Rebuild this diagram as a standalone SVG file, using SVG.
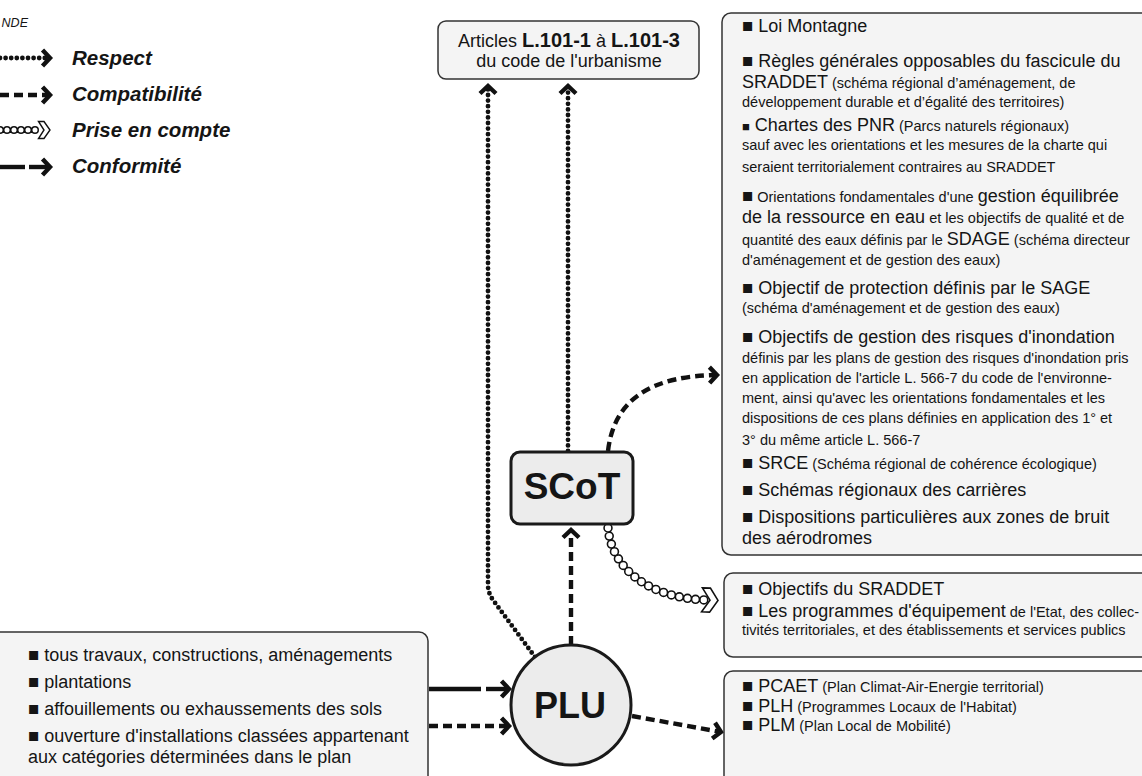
<svg xmlns="http://www.w3.org/2000/svg" width="1142" height="776" viewBox="0 0 1142 776">
<defs>
<style>
text{font-family:"Liberation Sans",Arial,Helvetica,sans-serif;fill:#151515}
.L{font-size:18px}
.s{font-size:14.5px}
.b{font-size:18.5px}
.bs{font-size:13px}
.box{fill:#f4f4f4;stroke:#333;stroke-width:1.5}
.core{fill:#ececec;stroke:#1a1a1a;stroke-width:3}
.core-t{font-weight:bold;text-anchor:middle}
.dot{fill:none;stroke:#111;stroke-width:4.8;stroke-linecap:round;stroke-dasharray:0 5.6}
.dash{fill:none;stroke:#111;stroke-width:4.4;stroke-dasharray:9 5}
.solid{fill:none;stroke:#111;stroke-width:4.4}
.chainO{fill:none;stroke:#111;stroke-width:9.5;stroke-linecap:round;stroke-dasharray:0 8.2}
.chainI{fill:none;stroke:#fff;stroke-width:6.3;stroke-linecap:round;stroke-dasharray:0 8.2}
.chainOs{fill:none;stroke:#111;stroke-width:8;stroke-linecap:round;stroke-dasharray:0 7}
.chainIs{fill:none;stroke:#fff;stroke-width:5;stroke-linecap:round;stroke-dasharray:0 7}
.leg{font-size:20.5px;font-weight:bold;font-style:italic}
</style>
<marker id="chev" markerUnits="userSpaceOnUse" viewBox="0 0 20 20" markerWidth="20" markerHeight="20" refX="11" refY="10" orient="auto">
<path d="M3.5,2 L11,10 L3.5,18" fill="none" stroke="#111" stroke-width="4.4"/>
</marker>
<marker id="hollow" markerUnits="userSpaceOnUse" viewBox="0 0 22 28" markerWidth="22" markerHeight="28" refX="6" refY="14" orient="auto">
<path d="M2,2 L10,2 L18,14 L10,26 L2,26 L10,14 Z" fill="#fff" stroke="#111" stroke-width="1.6" stroke-linejoin="miter"/>
</marker>
<marker id="hollowS" markerUnits="userSpaceOnUse" viewBox="0 0 16 20" markerWidth="16" markerHeight="20" refX="4" refY="10" orient="auto">
<path d="M1.5,1.5 L7,1.5 L13,10 L7,18.5 L1.5,18.5 L7,10 Z" fill="#fff" stroke="#111" stroke-width="1.4"/>
</marker>
</defs>
<rect width="1142" height="776" fill="#fff"/>

<g id="legend">
<text x="28" y="27" text-anchor="end" font-size="12.5" font-style="italic">NDE</text>
<path class="dot" d="M0,58 L50,58" marker-end="url(#chev)"/>
<text class="leg" x="72" y="65">Respect</text>
<path class="dash" d="M0,95 L50,95" marker-end="url(#chev)"/>
<text class="leg" x="72" y="101">Compatibilité</text>
<path class="chainOs" d="M0,130 L41,130"/>
<path class="chainIs" d="M0,130 L41,130" marker-end="url(#hollowS)"/>
<text class="leg" x="72" y="137">Prise en compte</text>
<path class="solid" d="M0,167 L25,167"/>
<path class="solid" d="M29,167 L50,167" marker-end="url(#chev)"/>
<text class="leg" x="72" y="173">Conformité</text>
</g>

<g id="connectors">
<path class="dot" d="M535,657 L493,600 Q488,593 488,585 L488,86" marker-end="url(#chev)"/>
<path class="dot" d="M568,451 L568,86" marker-end="url(#chev)"/>
<path class="dash" d="M571,645 L571,530" marker-end="url(#chev)"/>
<path class="dash" d="M608,451 C614,400 650,376 717,375" marker-end="url(#chev)"/>
<path class="chainO" d="M608,528 C612,570 650,598 706,600"/>
<path class="chainI" d="M608,528 C612,570 650,598 706,600" marker-end="url(#hollow)"/>
<path class="solid" d="M429,689 L481,689"/>
<path class="solid" d="M486,689 L509,689" marker-end="url(#chev)"/>
<path class="dash" d="M429,726 L509,726" marker-end="url(#chev)"/>
<path class="dash" d="M632,716 L721,732" marker-end="url(#chev)"/>
</g>

<g id="articles">
<rect class="box" x="438" y="21" width="261" height="58" rx="8"/>
<text x="569" y="47" text-anchor="middle" class="L">Articles <tspan font-weight="bold" font-size="20">L.101-1</tspan> à <tspan font-weight="bold" font-size="20">L.101-3</tspan></text>
<text x="569" y="67" text-anchor="middle" class="L">du code de l'urbanisme</text>
</g>

<g id="scot">
<rect class="core" x="511" y="452" width="122" height="72" rx="9"/>
<text class="core-t" x="572" y="499" font-size="37">SCoT</text>
</g>

<g id="plu">
<circle class="core" cx="571" cy="705" r="60"/>
<text class="core-t" x="570" y="718" font-size="36">PLU</text>
</g>

<g id="compat-list">
<rect class="box" x="722" y="13" width="440" height="542" rx="9"/>
<text x="742" y="32" class="L"><tspan class="b">■</tspan> Loi Montagne</text>
<text x="742" y="67" class="L"><tspan class="b">■</tspan> Règles générales opposables du fascicule du</text>
<text x="742" y="88" class="L">SRADDET<tspan class="s"> (schéma régional d’aménagement, de</tspan></text>
<text x="742" y="107" class="s">développement durable et d’égalité des territoires)</text>
<text x="742" y="131" class="L"><tspan class="bs">■</tspan> Chartes des PNR<tspan class="s"> (Parcs naturels régionaux)</tspan></text>
<text x="742" y="150" class="s">sauf avec les orientations et les mesures de la charte qui</text>
<text x="742" y="172" class="s">seraient territorialement contraires au SRADDET</text>
<text x="742" y="202" class="s"><tspan class="b">■</tspan> Orientations fondamentales d'une <tspan class="L">gestion équilibrée</tspan></text>
<text x="742" y="223" class="L">de la ressource en eau<tspan class="s"> et les objectifs de qualité et de</tspan></text>
<text x="742" y="245" class="s">quantité des eaux définis par le <tspan class="L">SDAGE</tspan> (schéma directeur</text>
<text x="742" y="265" class="s">d'aménagement et de gestion des eaux)</text>
<text x="742" y="294" class="L"><tspan class="b">■</tspan> Objectif de protection définis par le SAGE</text>
<text x="742" y="313" class="s">(schéma d'aménagement et de gestion des eaux)</text>
<text x="742" y="343" class="L"><tspan class="b">■</tspan> Objectifs de gestion des risques d'inondation</text>
<text x="742" y="363" class="s">définis par les plans de gestion des risques d'inondation pris</text>
<text x="742" y="383" class="s">en application de l'article L. 566-7 du code de l'environne-</text>
<text x="742" y="403" class="s">ment, ainsi qu'avec les orientations fondamentales et les</text>
<text x="742" y="423" class="s">dispositions de ces plans définies en application des 1° et</text>
<text x="742" y="445" class="s">3° du même article L. 566-7</text>
<text x="742" y="469" class="L"><tspan class="b">■</tspan> SRCE<tspan class="s"> (Schéma régional de cohérence écologique)</tspan></text>
<text x="742" y="496" class="L"><tspan class="b">■</tspan> Schémas régionaux des carrières</text>
<text x="742" y="523" class="L"><tspan class="b">■</tspan> Dispositions particulières aux zones de bruit</text>
<text x="742" y="544" class="L">des aérodromes</text>
</g>

<g id="prise-list">
<rect class="box" x="724" y="573" width="440" height="84" rx="9"/>
<text x="742" y="595" class="L"><tspan class="b">■</tspan> Objectifs du SRADDET</text>
<text x="742" y="617" class="L"><tspan class="b">■</tspan> Les programmes d'équipement<tspan class="s"> de l'Etat, des collec-</tspan></text>
<text x="742" y="635" class="s">tivités territoriales, et des établissements et services publics</text>
</g>

<g id="plu-compat-list">
<rect class="box" x="724" y="671" width="440" height="140" rx="9"/>
<text x="742" y="692" class="L"><tspan class="b">■</tspan> PCAET<tspan class="s"> (Plan Climat-Air-Energie territorial)</tspan></text>
<text x="742" y="712" class="L"><tspan class="b">■</tspan> PLH<tspan class="s"> (Programmes Locaux de l'Habitat)</tspan></text>
<text x="742" y="731" class="L"><tspan class="b">■</tspan> PLM<tspan class="s"> (Plan Local de Mobilité)</tspan></text>
</g>

<g id="travaux-list">
<rect class="box" x="-20" y="632" width="448" height="170" rx="9"/>
<text x="28" y="661" class="L"><tspan class="b">■</tspan> tous travaux, constructions, aménagements</text>
<text x="28" y="688" class="L"><tspan class="b">■</tspan> plantations</text>
<text x="28" y="715" class="L"><tspan class="b">■</tspan> affouillements ou exhaussements des sols</text>
<text x="28" y="742" class="L"><tspan class="b">■</tspan> ouverture d'installations classées appartenant</text>
<text x="28" y="763" class="L">aux catégories déterminées dans le plan</text>
</g>
</svg>
